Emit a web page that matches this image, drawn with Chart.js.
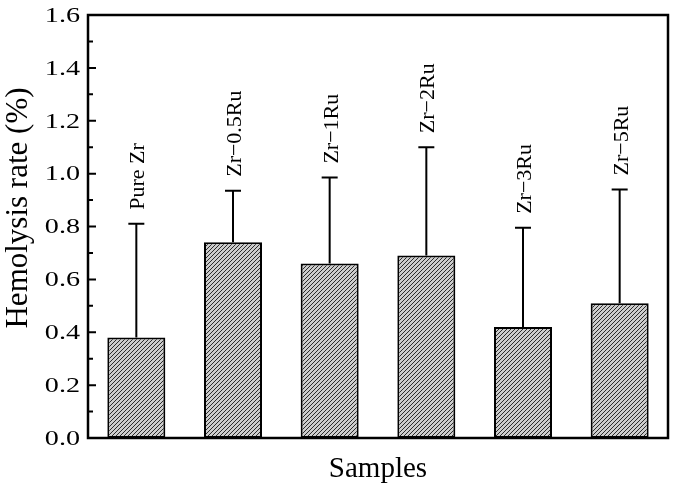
<!DOCTYPE html>
<html><head><meta charset="utf-8">
<script src="https://cdn.jsdelivr.net/npm/chart.js@4"></script>
<style>html,body{margin:0;padding:0;background:#fff}canvas{display:block}</style>
</head><body>
<canvas id="c" width="675" height="489"></canvas>
<script>
const categories = ["Pure Zr", "Zr\u22120.5Ru", "Zr\u22121Ru", "Zr\u22122Ru", "Zr\u22123Ru", "Zr\u22125Ru"];
const hemolysis = [0.38, 0.74, 0.66, 0.69, 0.42, 0.51];
const errors = [0.43, 0.195, 0.325, 0.41, 0.375, 0.43];
const yTicks = [0, 0.2, 0.4, 0.6, 0.8, 1.0, 1.2, 1.4, 1.6];
const yMinor = [0.1, 0.3, 0.5, 0.7, 0.9, 1.1, 1.3, 1.5];
const yTitle = 'Hemolysis rate (%)';
const xTitle = 'Samples';

const FONT = "'Liberation Serif','Times New Roman',serif";

function hatch() {
  const s = 4;
  const p = document.createElement('canvas');
  p.width = s; p.height = s;
  const g = p.getContext('2d');
  g.fillStyle = '#cccccc';
  g.fillRect(0, 0, s, s);
  g.strokeStyle = '#2b2b2b';
  g.lineWidth = 1;
  g.beginPath();
  g.moveTo(-1, s + 1); g.lineTo(s + 1, -1);
  g.moveTo(-1, 1); g.lineTo(1, -1);
  g.moveTo(s - 1, s + 1); g.lineTo(s + 1, s - 1);
  g.stroke();
  return g.createPattern(p, 'repeat');
}

const decor = {
  id: 'decor',
  afterDatasetsDraw(chart) {
    const ctx = chart.ctx, a = chart.chartArea, y = chart.scales.y;
    const meta = chart.getDatasetMeta(0);
    ctx.save();
    meta.data.forEach((el, i) => {
      const top = y.getPixelForValue(hemolysis[i] + errors[i]);
      ctx.strokeStyle = '#000'; ctx.lineWidth = 2;
      ctx.beginPath();
      ctx.moveTo(el.x, el.y); ctx.lineTo(el.x, top);
      ctx.moveTo(el.x - 8, top); ctx.lineTo(el.x + 8, top);
      ctx.stroke();
      ctx.save();
      ctx.translate(el.x + 8, top - 14);
      ctx.rotate(-Math.PI / 2);
      ctx.fillStyle = '#000';
      ctx.font = '22px ' + FONT;
      ctx.textAlign = 'left'; ctx.textBaseline = 'alphabetic';
      ctx.fillText(categories[i], 0, 0);
      ctx.restore();
    });
    // y tick labels (drawn wide as in the reference)
    ctx.fillStyle = '#000';
    ctx.font = '22px ' + FONT;
    ctx.textAlign = 'right'; ctx.textBaseline = 'middle';
    yTicks.forEach(v => {
      const p = y.getPixelForValue(v);
      ctx.save();
      ctx.translate(80, p + 1);
      ctx.scale(1.28, 1);
      ctx.fillText(v.toFixed(1), 0, 0);
      ctx.restore();
    });
    // y axis title
    ctx.save();
    ctx.translate(27, y.getPixelForValue(0.87));
    ctx.rotate(-Math.PI / 2);
    ctx.font = '31px ' + FONT;
    ctx.textAlign = 'center'; ctx.textBaseline = 'alphabetic';
    ctx.fillText(yTitle, 0, 0);
    ctx.restore();
    // ticks and frame
    ctx.strokeStyle = '#000'; ctx.lineWidth = 2;
    ctx.beginPath();
    yTicks.forEach(v => { const p = y.getPixelForValue(v); ctx.moveTo(a.left, p); ctx.lineTo(a.left + 8, p); });
    yMinor.forEach(v => { const p = y.getPixelForValue(v); ctx.moveTo(a.left, p); ctx.lineTo(a.left + 5, p); });
    ctx.stroke();
    ctx.lineWidth = 2.5;
    ctx.strokeRect(a.left, a.top, a.right - a.left, a.bottom - a.top);
    ctx.restore();
  }
};

new Chart(document.getElementById('c'), {
  type: 'bar',
  data: {
    labels: categories,
    datasets: [{
      data: hemolysis,
      backgroundColor: hatch(),
      borderColor: '#000',
      borderWidth: 2,
      borderSkipped: false,
      barPercentage: 0.6,
      categoryPercentage: 1
    }]
  },
  options: {
    responsive: false,
    animation: false,
    layout: { padding: { left: 0, top: 15, right: 7, bottom: 0 } },
    plugins: { legend: { display: false }, tooltip: { enabled: false } },
    scales: {
      x: {
        grid: { display: false, drawTicks: false },
        border: { display: false },
        ticks: { display: false },
        title: { display: true, text: xTitle, color: '#000', font: { family: FONT, size: 29 }, padding: { top: 0, bottom: 2 } },
        afterFit(s) { s.height = 51; }
      },
      y: {
        min: 0, max: 1.6,
        afterBuildTicks(s) { s.ticks = yTicks.map(v => ({ value: v })); },
        grid: { display: false, drawTicks: false },
        border: { display: false },
        ticks: { display: false },
        title: { display: false },
        afterFit(s) { s.width = 88; }
      }
    }
  },
  plugins: [decor]
});
</script>
</body></html>
